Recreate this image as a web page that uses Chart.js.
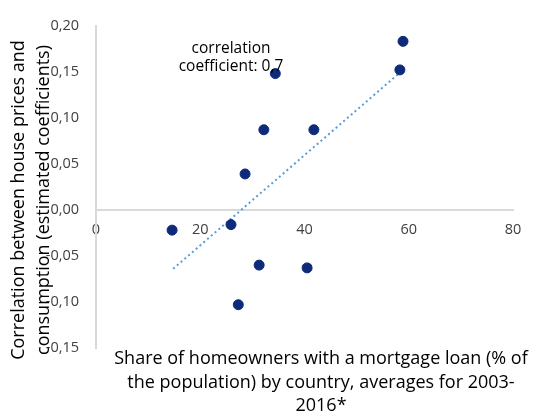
<!DOCTYPE html>
<html><head><meta charset="utf-8">
<script src="https://cdn.jsdelivr.net/npm/chart.js@4/dist/chart.umd.min.js"></script>
<style>html,body{margin:0;padding:0;background:#fff}</style></head>
<body>
<canvas id="c" width="534" height="419"></canvas>
<script>
// Share of homeowners with a mortgage loan (% of population)
const shareMortgage = [14.6, 25.9, 27.3, 28.6, 31.3, 32.2, 34.4, 40.5, 41.8, 58.3, 58.9];
// Correlation between house prices and consumption
const correlation = [-0.022, -0.016, -0.103, 0.039, -0.060, 0.087, 0.148, -0.063, 0.087, 0.152, 0.183];
// Trendline endpoints
const trendX = [14.8, 58.5];
const trendY = [-0.064, 0.150];
const xTicks = [0, 20, 40, 60, 80];
const yTicks = [-0.15, -0.10, -0.05, 0.00, 0.05, 0.10, 0.15, 0.20];
const yTitle = ['Correlation between house prices and', 'consumption (estimated coefficients)'];
const xTitle = ['Share of homeowners with a mortgage loan (% of', 'the population) by country, averages for 2003-', '2016*'];
const note = ['correlation', 'coefficient: 0,7'];

const points = shareMortgage.map((x, i) => ({x: x, y: correlation[i]}));
const trend = trendX.map((x, i) => ({x: x, y: trendY[i]}));
const FONT = "'Open Sans', sans-serif";

const titles = {
  id: 'titles',
  afterDraw(chart) {
    const ctx = chart.ctx;
    const xs = chart.scales.x, ys = chart.scales.y;
    ctx.save();
    ctx.fillStyle = '#000';
    ctx.textAlign = 'center';
    ctx.textBaseline = 'middle';
    // annotation
    ctx.font = '15.5px ' + FONT;
    ctx.fillText(note[0], xs.getPixelForValue(25.9), ys.getPixelForValue(0.1756));
    ctx.fillText(note[1], xs.getPixelForValue(25.9), ys.getPixelForValue(0.156));
    // x title
    ctx.font = '18px ' + FONT;
    const xc = 321;
    [359, 383, 406].forEach((y, i) => ctx.fillText(xTitle[i], xc, y));
    // y title
    ctx.font = '18px ' + FONT;
    ctx.translate(0, 200);
    ctx.rotate(-Math.PI / 2);
    ctx.fillText(yTitle[0], 0, 19);
    ctx.fillText(yTitle[1], 0, 44);
    ctx.restore();
  }
};

new Chart(document.getElementById('c'), {
  type: 'scatter',
  data: {
    datasets: [
      {
        data: points,
        backgroundColor: '#0d2b7a',
        borderColor: '#0d2b7a',
        pointRadius: 5,
        pointHoverRadius: 5,
        order: 1
      },
      {
        type: 'line',
        data: trend,
        borderColor: '#5b9bd5',
        borderWidth: 2,
        borderDash: [2, 3],
        pointRadius: 0,
        fill: false,
        order: 2
      }
    ]
  },
  options: {
    responsive: false,
    animation: false,
    events: [],
    layout: {padding: {left: 0, top: 22, right: 21, bottom: 71}},
    plugins: {legend: {display: false}, tooltip: {enabled: false}},
    scales: {
      x: {
        type: 'linear',
        min: 0, max: 80,
        position: {y: 0},
        afterBuildTicks: s => { s.ticks = xTicks.map(v => ({value: v})); },
        grid: {display: false, drawTicks: false},
        border: {display: true, color: '#d9d9d9', width: 2},
        ticks: {color: '#404040', font: {family: FONT, size: 14.5}, padding: 11,
                callback: v => String(v)}
      },
      y: {
        type: 'linear',
        min: -0.15, max: 0.20,
        afterBuildTicks: s => { s.ticks = yTicks.map(v => ({value: v})); },
        afterFit: s => { s.width = 96; },
        grid: {display: false, drawTicks: false},
        border: {display: true, color: '#d9d9d9', width: 2},
        ticks: {color: '#404040', font: {family: FONT, size: 14.5}, padding: 17,
                callback: v => v.toFixed(2).replace('.', ',')}
      }
    }
  },
  plugins: [titles]
});
</script>
</body></html>
